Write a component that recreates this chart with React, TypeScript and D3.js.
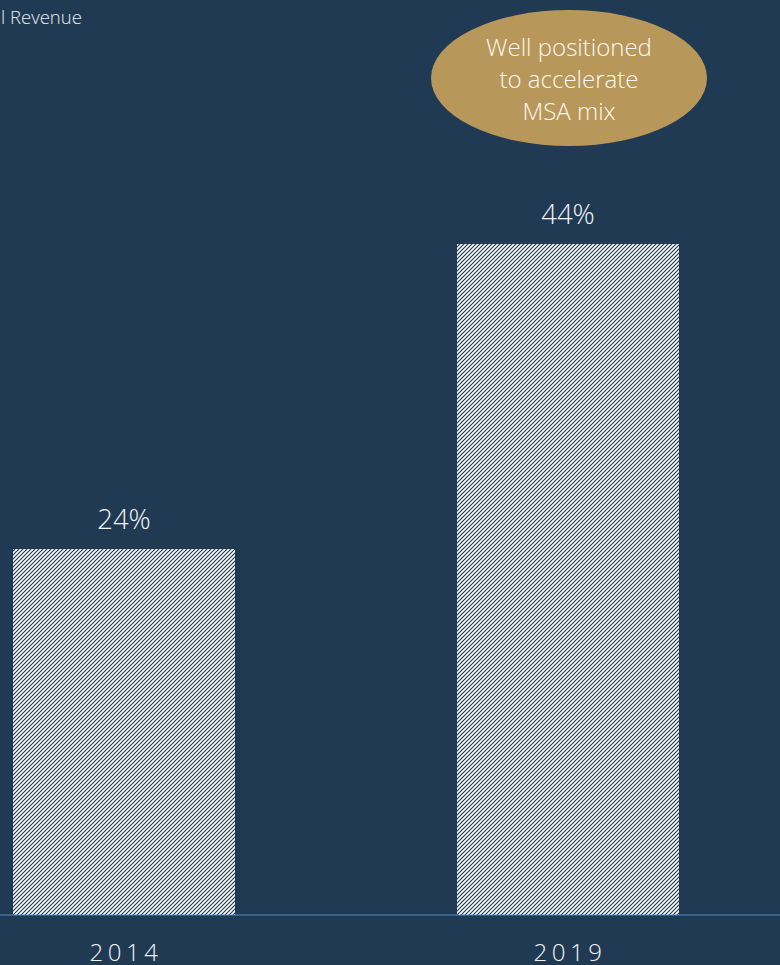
import React from "react";
import * as d3 from "d3";

const categories = ["2014", "2019"];
const values = [24, 44];
const valueLabels = ["24%", "44%"];
const calloutLines = ["Well positioned", "to accelerate", "MSA mix"];
const titleText = "l Revenue";

const W = 780;
const H = 965;
const BG = "#213a53";
const FONT = "'Open Sans', Lato, sans-serif";

export default function App() {
  const x = d3.scaleBand<string>().domain(categories).range([-98, 790]).paddingInner(0.5).paddingOuter(0.25);
  const y = d3.scaleLinear().domain([0, 60]).range([915, 0]);
  const bw = x.bandwidth();
  return (
    <svg width={W} height={H} style={{ position: "absolute", left: 0, top: 0 }} xmlns="http://www.w3.org/2000/svg">
      <defs>
        <pattern id="hatch" patternUnits="userSpaceOnUse" width={4} height={4}>
          <rect width={4} height={4} fill="#ffffff" />
          <path d="M-1,1 l2,-2 M0,4 l4,-4 M3,5 l2,-2" stroke="#213a53" strokeWidth={1.2} />
        </pattern>
      </defs>
      <rect width={W} height={H} fill={BG} />
      <text x={1} y={24} fill="#e8ecf0" fontFamily={FONT} fontWeight={300} fontSize={18.5}>{titleText}</text>
      {categories.map((c, i) => {
        const x0 = x(c) as number;
        const cx = x0 + bw / 2;
        return (
          <g key={c}>
            <rect x={x0} y={y(values[i])} width={bw} height={y(0) - y(values[i])} fill="url(#hatch)" />
            <text x={cx} y={y(values[i]) - 20} textAnchor="middle" fill="#f2f4f6" fontFamily={FONT} fontWeight={300} fontSize={27.5}>{valueLabels[i]}</text>
            <text x={cx + 2} y={961} textAnchor="middle" fill="#f2f4f6" fontFamily={FONT} fontWeight={300} fontSize={24} letterSpacing={4.5}>{c}</text>
          </g>
        );
      })}
      <line x1={0} x2={W} y1={y(0)} y2={y(0)} stroke="#4f8fd0" strokeWidth={1.2} />
      <ellipse cx={569} cy={78} rx={138} ry={68} fill="#b8975a" />
      {calloutLines.map((t, i) => (
        <text key={t} x={569} y={56 + i * 32} textAnchor="middle" fill="#fbf8f2" fontFamily={FONT} fontWeight={300} fontSize={24}>{t}</text>
      ))}
    </svg>
  );
}
